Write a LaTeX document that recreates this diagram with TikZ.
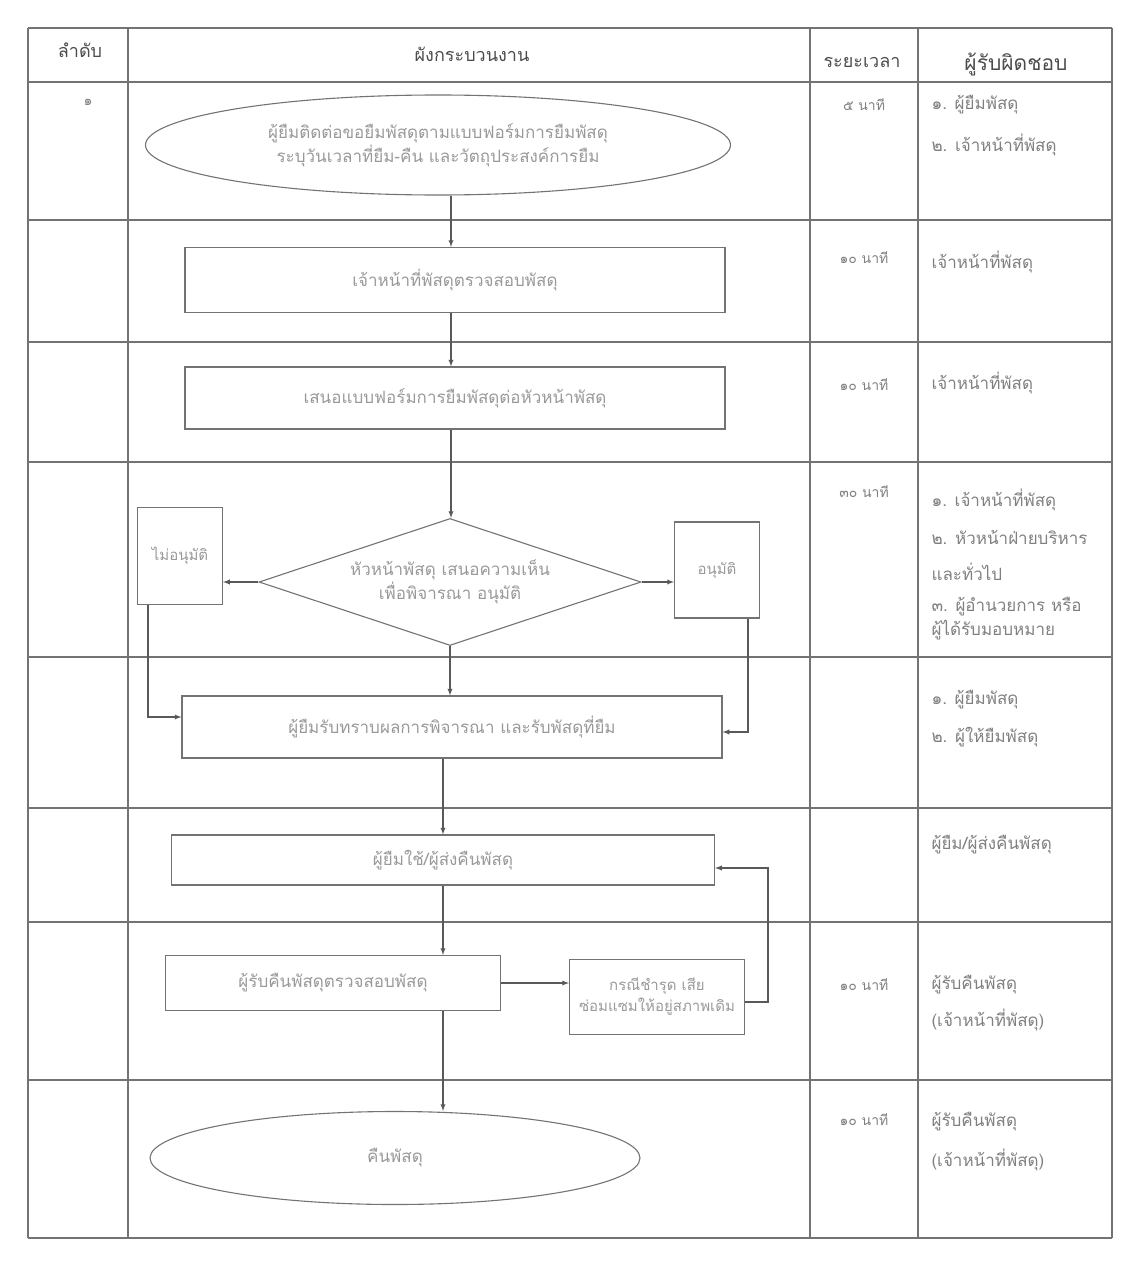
\documentclass[tikz,border=0pt]{standalone}
\usepackage{fontspec}
\newfontfamily\thaifont[Script=Thai]{Loma}
\usetikzlibrary{arrows}
\usetikzlibrary{shapes.geometric}
\usetikzlibrary{positioning}
\tikzset{
	grid/.style={draw=black!55,line width=1.1pt},
	flowbox/.style={draw=black!55,line width=1.1pt,rectangle,inner sep=0pt,
		align=center,text=black!40,font=\thaifont\fontsize{17}{24}\selectfont},
	smallbox/.style={flowbox,font=\thaifont\fontsize{15}{21}\selectfont},
	terminal/.style={flowbox,ellipse},
	decide/.style={flowbox,diamond,shape aspect=3},
	flow/.style={draw=black!65,line width=1.3pt,-latex},
	head/.style={text=black!70,font=\thaifont\fontsize{18}{21}\selectfont},
	cell/.style={text=black!50,font=\thaifont\fontsize{17}{20}\selectfont,anchor=west},
	timecell/.style={text=black!50,font=\thaifont\fontsize{14}{17}\selectfont}
}
\begin{document}
\begin{tikzpicture}[x=1pt,y=-1pt]
\useasboundingbox (0,0) rectangle (1124,1263);
\def\rows{28,82,220,342,462,657,808,922,1080,1238}
\def\cols{28,128,810,918,1112}

%table lines
\foreach \y in \rows{
	\draw[grid] (28,\y) -- (1112,\y);
}
\foreach \x in \cols{
	\draw[grid] (\x,28) -- (\x,1238);
}

%headers
\node[head](h1) at (80,50) {ลำดับ};
\node[head](h2) at (472,54) {ผังกระบวนงาน};
\node[head](h3) at (862,62) {ระยะเวลา};
\node[head,font=\thaifont\fontsize{21}{24}\selectfont](h4) at (1016,64) {ผู้รับผิดชอบ};
\node[timecell](n1) at (88,102) {๑};

%flow chart
\coordinate(spine) at (451,0);
\node[terminal,minimum width=585,minimum height=100](0) at (438,145)
	{ผู้ยืมติดต่อขอยืมพัสดุตามแบบฟอร์มการยืมพัสดุ\\ระบุวันเวลาที่ยืม-คืน และวัตถุประสงค์การยืม};
\node[flowbox,minimum width=540,minimum height=65](1) at (455,280) {เจ้าหน้าที่พัสดุตรวจสอบพัสดุ};
\node[flowbox,minimum width=540,minimum height=62](2) at (455,398) {เสนอแบบฟอร์มการยืมพัสดุต่อหัวหน้าพัสดุ};
\node[decide,minimum width=382,minimum height=127](3) at (450,582) {หัวหน้าพัสดุ เสนอความเห็น\\เพื่อพิจารณา อนุมัติ};
\node[smallbox,minimum width=85,minimum height=97](31) at (180,556) {ไม่อนุมัติ};
\node[smallbox,minimum width=85,minimum height=96](32) at (717,570) {อนุมัติ};
\node[flowbox,minimum width=540,minimum height=62](4) at (452,727) {ผู้ยืมรับทราบผลการพิจารณา และรับพัสดุที่ยืม};
\node[flowbox,minimum width=543,minimum height=50](5) at (443,860) {ผู้ยืมใช้/ผู้ส่งคืนพัสดุ};
\node[flowbox,minimum width=335,minimum height=55](6) at (333,983) {ผู้รับคืนพัสดุตรวจสอบพัสดุ};
\node[smallbox,minimum width=175,minimum height=75](61) at (657,997) {กรณีชำรุด เสีย\\ซ่อมแซมให้อยู่สภาพเดิม};
\node[terminal,minimum width=490,minimum height=93](7) at (395,1158) {คืนพัสดุ};

\draw[flow] (0.south -| spine) -- (1.north -| spine);
\draw[flow] (1.south -| spine) -- (2.north -| spine);
\draw[flow] (2.south -| spine) -- (3.north -| spine);
\draw[flow] (3.west) -- (3.west -| 31.east);
\draw[flow] (3.east) -- (3.east -| 32.west);
\draw[flow] (3.south) -- (4.north -| 3.south);
\draw[flow] ([xshift=-32]31.south) |- ([yshift=10]4.west);
\draw[flow] ([xshift=31]32.south) |- ([yshift=-5]4.east);
\draw[flow] (4.south -| 5.north) -- (5.north);
\draw[flow] (5.south) -- (6.north -| 5.south);
\draw[flow] (6.east) -- (6.east -| 61.west);
\draw[flow] ([yshift=-5]61.east) -- ++(23,0) |- ([yshift=-8]5.east);
\draw[flow] (6.south -| 5.south) -- (7.north -| 5.south);

%time column
\foreach \y/\t [count=\i] in {105/๕ นาที,258/๑๐ นาที,385/๑๐ นาที,492/๓๐ นาที,985/๑๐ นาที,1120/๑๐ นาที}{
	\node[timecell](t\i) at (864,\y) {\t};
}

%responsible column
\foreach \y/\t [count=\i] in {105/๑. ผู้ยืมพัสดุ,145/๒. เจ้าหน้าที่พัสดุ,262/เจ้าหน้าที่พัสดุ,383/เจ้าหน้าที่พัสดุ,
	500/๑. เจ้าหน้าที่พัสดุ,537/๒. หัวหน้าฝ่ายบริหาร,572/และทั่วไป,607/๓. ผู้อำนวยการ หรือ,630/ผู้ได้รับมอบหมาย,
	700/๑. ผู้ยืมพัสดุ,737/๒. ผู้ให้ยืมพัสดุ,845/{ผู้ยืม/ผู้ส่งคืนพัสดุ},
	985/ผู้รับคืนพัสดุ,1020/(เจ้าหน้าที่พัสดุ),1122/ผู้รับคืนพัสดุ,1160/(เจ้าหน้าที่พัสดุ)}{
	\node[cell](r\i) at (928,\y) {\t};
}
\end{tikzpicture}
\end{document}
